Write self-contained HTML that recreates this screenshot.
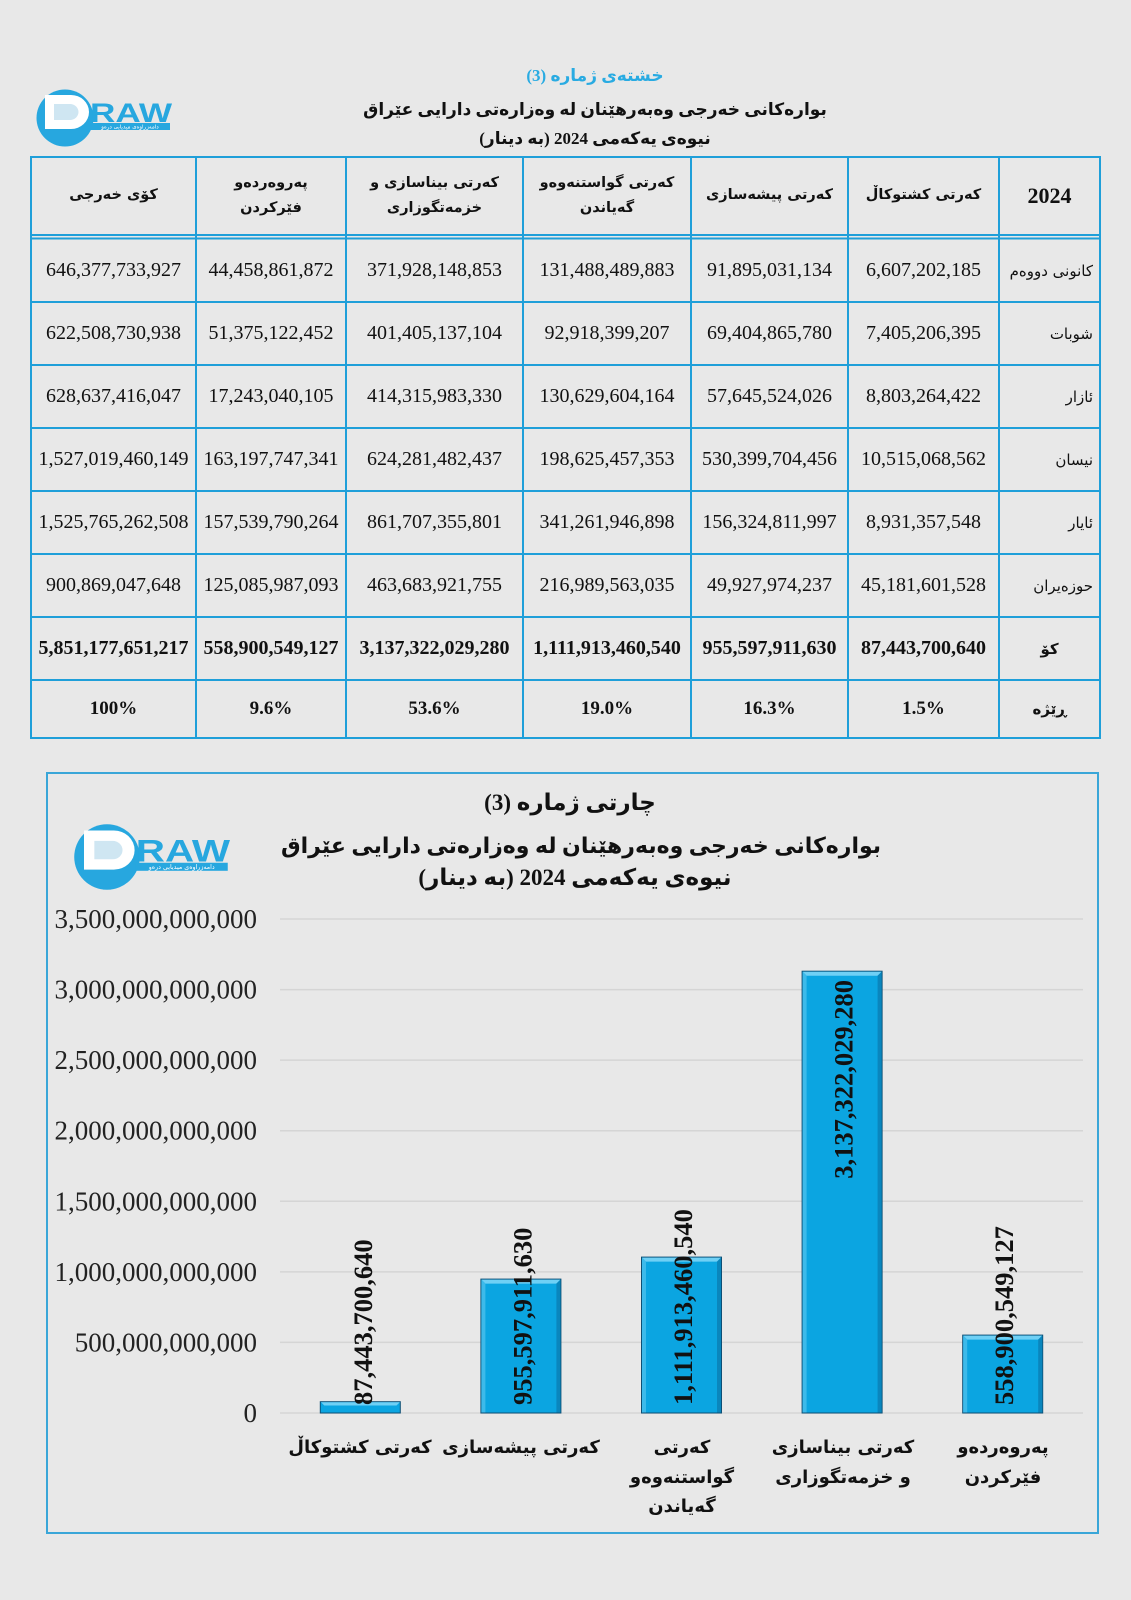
<!DOCTYPE html>
<html lang="ckb">
<head>
<meta charset="utf-8">
<style>
html,body{margin:0;padding:0;}
body{width:1131px;height:1600px;background:#e8e8e8;position:relative;overflow:hidden;
 font-family:"Liberation Serif","DejaVu Sans",serif;color:#111;}
.abs{position:absolute;}
.t{position:absolute;white-space:nowrap;direction:rtl;text-align:center;}
.row{position:absolute;left:0;width:1131px;}
.row div{position:absolute;top:0;height:100%;display:flex;align-items:center;justify-content:center;white-space:nowrap;}
.k1{left:31px;width:165px;}
.k2{left:196px;width:150px;}
.k3{left:346px;width:177px;}
.k4{left:523px;width:168px;}
.k5{left:691px;width:157px;}
.k6{left:848px;width:151px;}
.k7{left:999px;width:101px;}
.num{font-family:"Liberation Serif",serif;font-size:20px;}
.bn{font-family:"Liberation Serif",serif;font-size:20px;font-weight:bold;}
.pc{font-family:"Liberation Serif",serif;font-size:19px;font-weight:bold;}
.lab{font-family:"DejaVu Sans",sans-serif;font-size:15px;direction:rtl;}
.row div.lab{justify-content:flex-start;padding-right:7px;box-sizing:border-box;}
.row div.lb{font-family:"DejaVu Sans",sans-serif;font-size:15px;font-weight:bold;direction:rtl;}
.hd div{font-family:"DejaVu Sans",sans-serif;font-weight:bold;font-size:14.5px;direction:rtl;line-height:25px;text-align:center;}
.hd div.yr{font-family:"Liberation Serif",serif;font-size:22px;}
.cat{position:absolute;width:170px;text-align:center;direction:rtl;font-family:"DejaVu Sans",sans-serif;font-weight:bold;font-size:18px;line-height:29.5px;white-space:nowrap;}
</style>
</head>
<body>

<svg class="abs" style="left:0;top:0" width="1131" height="1600" viewBox="0 0 1131 1600">
  <defs>
    <g id="logo">
      <circle cx="0" cy="0" r="28.5" fill="#27a7df"/>
      <path d="M-20 -23 H6 A18 17 0 0 1 6 11 H-20 Z" fill="#ffffff"/>
      <path d="M-11 -14 H5 A8.5 8 0 0 1 5 2 H-11 Z" fill="#cfe6f2"/>
      <text x="25" y="4" font-family="Liberation Sans, sans-serif" font-weight="bold" font-size="27" fill="#27a7df" textLength="82" lengthAdjust="spacingAndGlyphs">RAW</text>
      <rect x="25" y="5" width="80" height="7" fill="#27a7df"/>
      <text x="65" y="10.5" font-family="DejaVu Sans, sans-serif" font-size="5.5" fill="#ffffff" text-anchor="middle" direction="rtl">دامەزراوەی میدیایی درەو</text>
    </g>
  </defs>
  <use href="#logo" transform="translate(65,118)"/>
  <use href="#logo" transform="translate(107,857) scale(1.15)"/>

  <g fill="#1f9fd9">
    <rect x="30" y="156" width="1071" height="2"/>
    <rect x="30" y="234" width="1071" height="2"/>
    <rect x="30" y="237.5" width="1071" height="2"/>
    <rect x="30" y="301" width="1071" height="2"/>
    <rect x="30" y="364" width="1071" height="2"/>
    <rect x="30" y="427" width="1071" height="2"/>
    <rect x="30" y="490" width="1071" height="2"/>
    <rect x="30" y="553" width="1071" height="2"/>
    <rect x="30" y="616" width="1071" height="2"/>
    <rect x="30" y="679" width="1071" height="2"/>
    <rect x="30" y="737" width="1071" height="2"/>
    <rect x="30" y="156" width="2" height="583"/>
    <rect x="195" y="156" width="2" height="583"/>
    <rect x="345" y="156" width="2" height="583"/>
    <rect x="522" y="156" width="2" height="583"/>
    <rect x="690" y="156" width="2" height="583"/>
    <rect x="847" y="156" width="2" height="583"/>
    <rect x="998" y="156" width="2" height="583"/>
    <rect x="1099" y="156" width="2" height="583"/>
  </g>

  <rect x="47" y="773" width="1051" height="760" fill="none" stroke="#3aa6d8" stroke-width="2"/>

  <g stroke="#d5d5d5" stroke-width="1.5">
    <line x1="280" y1="919" x2="1083" y2="919"/>
    <line x1="280" y1="989.6" x2="1083" y2="989.6"/>
    <line x1="280" y1="1060.1" x2="1083" y2="1060.1"/>
    <line x1="280" y1="1130.7" x2="1083" y2="1130.7"/>
    <line x1="280" y1="1201.3" x2="1083" y2="1201.3"/>
    <line x1="280" y1="1271.9" x2="1083" y2="1271.9"/>
    <line x1="280" y1="1342.4" x2="1083" y2="1342.4"/>
    <line x1="280" y1="1413" x2="1083" y2="1413"/>
  </g>

  <g font-family="Liberation Serif, serif" font-size="27" fill="#222" text-anchor="end">
    <text x="257" y="928">3,500,000,000,000</text>
    <text x="257" y="998.6">3,000,000,000,000</text>
    <text x="257" y="1069.1">2,500,000,000,000</text>
    <text x="257" y="1139.7">2,000,000,000,000</text>
    <text x="257" y="1210.3">1,500,000,000,000</text>
    <text x="257" y="1280.9">1,000,000,000,000</text>
    <text x="257" y="1351.4">500,000,000,000</text>
    <text x="257" y="1422">0</text>
  </g>

  <g>
    <rect x="320.3" y="1401.7" width="80" height="11.3" fill="#0ba5e1" stroke="#0d4f75" stroke-width="1"/>
    <polygon points="321,1402.2 399.8,1402.2 396.5,1405.5 324.3,1405.5" fill="#6fd0f5"/>
    <rect x="480.9" y="1279.1" width="80" height="133.9" fill="#0ba5e1" stroke="#0d4f75" stroke-width="1"/>
    <polygon points="481.4,1279.6 560.4,1279.6 556.4,1283.6 485.4,1283.6" fill="#6fd0f5"/>
    <polygon points="560.4,1279.6 560.4,1412.5 556.4,1412.5 556.4,1283.6" fill="#0a86bd"/>
    <polygon points="481.4,1279.6 485.4,1283.6 485.4,1412.5 481.4,1412.5" fill="#3dbaea"/>
    <rect x="641.5" y="1257.1" width="80" height="155.9" fill="#0ba5e1" stroke="#0d4f75" stroke-width="1"/>
    <polygon points="642,1257.6 721,1257.6 717,1261.6 646,1261.6" fill="#6fd0f5"/>
    <polygon points="721,1257.6 721,1412.5 717,1412.5 717,1261.6" fill="#0a86bd"/>
    <polygon points="642,1257.6 646,1261.6 646,1412.5 642,1412.5" fill="#3dbaea"/>
    <rect x="802.1" y="971.2" width="80" height="441.8" fill="#0ba5e1" stroke="#0d4f75" stroke-width="1"/>
    <polygon points="802.6,971.7 881.6,971.7 877.6,975.7 806.6,975.7" fill="#6fd0f5"/>
    <polygon points="881.6,971.7 881.6,1412.5 877.6,1412.5 877.6,975.7" fill="#0a86bd"/>
    <polygon points="802.6,971.7 806.6,975.7 806.6,1412.5 802.6,1412.5" fill="#3dbaea"/>
    <rect x="962.7" y="1335.1" width="80" height="77.9" fill="#0ba5e1" stroke="#0d4f75" stroke-width="1"/>
    <polygon points="963.2,1335.6 1042.2,1335.6 1038.2,1339.6 967.2,1339.6" fill="#6fd0f5"/>
    <polygon points="1042.2,1335.6 1042.2,1412.5 1038.2,1412.5 1038.2,1339.6" fill="#0a86bd"/>
    <polygon points="963.2,1335.6 967.2,1339.6 967.2,1412.5 963.2,1412.5" fill="#3dbaea"/>
  </g>

  <g font-family="Liberation Serif, serif" font-weight="bold" font-size="26.5" fill="#111">
    <text transform="translate(372,1405) rotate(-90)">87,443,700,640</text>
    <text transform="translate(531.5,1405) rotate(-90)">955,597,911,630</text>
    <text transform="translate(692,1405) rotate(-90)">1,111,913,460,540</text>
    <text transform="translate(852.5,980) rotate(-90)" text-anchor="end">3,137,322,029,280</text>
    <text transform="translate(1013,1405) rotate(-90)">558,900,549,127</text>
  </g>
</svg>

<div class="t" style="left:395px;width:400px;top:62px;line-height:28px;font-size:17px;font-weight:bold;color:#29abe2;">خشتەی ژمارە (3)</div>
<div class="t" style="left:295px;width:600px;top:96px;line-height:28px;font-size:17px;font-weight:bold;">بوارەکانی خەرجی وەبەرهێنان لە وەزارەتی دارایی عێراق</div>
<div class="t" style="left:395px;width:400px;top:125px;line-height:28px;font-size:17px;font-weight:bold;">نیوەی یەکەمی 2024 (بە دینار)</div>

<div class="row hd" style="top:157px;height:77px;">
  <div class="k1">کۆی خەرجی</div>
  <div class="k2">پەروەردەو<br>فێرکردن</div>
  <div class="k3">کەرتی بیناسازی و<br>خزمەتگوزاری</div>
  <div class="k4">کەرتی گواستنەوەو<br>گەیاندن</div>
  <div class="k5">کەرتی پیشەسازی</div>
  <div class="k6">کەرتی کشتوکاڵ</div>
  <div class="k7 yr">2024</div>
</div>

<div class="row" style="top:239px;height:63px;">
  <div class="k1 num">646,377,733,927</div><div class="k2 num">44,458,861,872</div><div class="k3 num">371,928,148,853</div><div class="k4 num">131,488,489,883</div><div class="k5 num">91,895,031,134</div><div class="k6 num">6,607,202,185</div><div class="k7 lab">کانونی دووەم</div>
</div>
<div class="row" style="top:302px;height:63px;">
  <div class="k1 num">622,508,730,938</div><div class="k2 num">51,375,122,452</div><div class="k3 num">401,405,137,104</div><div class="k4 num">92,918,399,207</div><div class="k5 num">69,404,865,780</div><div class="k6 num">7,405,206,395</div><div class="k7 lab">شوبات</div>
</div>
<div class="row" style="top:365px;height:63px;">
  <div class="k1 num">628,637,416,047</div><div class="k2 num">17,243,040,105</div><div class="k3 num">414,315,983,330</div><div class="k4 num">130,629,604,164</div><div class="k5 num">57,645,524,026</div><div class="k6 num">8,803,264,422</div><div class="k7 lab">ئازار</div>
</div>
<div class="row" style="top:428px;height:63px;">
  <div class="k1 num">1,527,019,460,149</div><div class="k2 num">163,197,747,341</div><div class="k3 num">624,281,482,437</div><div class="k4 num">198,625,457,353</div><div class="k5 num">530,399,704,456</div><div class="k6 num">10,515,068,562</div><div class="k7 lab">نیسان</div>
</div>
<div class="row" style="top:491px;height:63px;">
  <div class="k1 num">1,525,765,262,508</div><div class="k2 num">157,539,790,264</div><div class="k3 num">861,707,355,801</div><div class="k4 num">341,261,946,898</div><div class="k5 num">156,324,811,997</div><div class="k6 num">8,931,357,548</div><div class="k7 lab">ئایار</div>
</div>
<div class="row" style="top:554px;height:63px;">
  <div class="k1 num">900,869,047,648</div><div class="k2 num">125,085,987,093</div><div class="k3 num">463,683,921,755</div><div class="k4 num">216,989,563,035</div><div class="k5 num">49,927,974,237</div><div class="k6 num">45,181,601,528</div><div class="k7 lab">حوزەیران</div>
</div>
<div class="row" style="top:617px;height:63px;">
  <div class="k1 bn">5,851,177,651,217</div><div class="k2 bn">558,900,549,127</div><div class="k3 bn">3,137,322,029,280</div><div class="k4 bn">1,111,913,460,540</div><div class="k5 bn">955,597,911,630</div><div class="k6 bn">87,443,700,640</div><div class="k7 lb">کۆ</div>
</div>
<div class="row" style="top:680px;height:58px;">
  <div class="k1 pc">100%</div><div class="k2 pc">9.6%</div><div class="k3 pc">53.6%</div><div class="k4 pc">19.0%</div><div class="k5 pc">16.3%</div><div class="k6 pc">1.5%</div><div class="k7 lb">ڕێژە</div>
</div>

<div class="t" style="left:270px;width:600px;top:786px;line-height:34px;font-size:23px;font-weight:bold;">چارتی ژمارە (3)</div>
<div class="t" style="left:231px;width:700px;top:829px;line-height:34px;font-size:22px;font-weight:bold;">بوارەکانی خەرجی وەبەرهێنان لە وەزارەتی دارایی عێراق</div>
<div class="t" style="left:275px;width:600px;top:861px;line-height:34px;font-size:23px;font-weight:bold;">نیوەی یەکەمی 2024 (بە دینار)</div>

<div class="cat" style="left:275px;top:1433px;">کەرتی کشتوکاڵ</div>
<div class="cat" style="left:436px;top:1433px;">کەرتی پیشەسازی</div>
<div class="cat" style="left:597px;top:1433px;">کەرتی<br>گواستنەوەو<br>گەیاندن</div>
<div class="cat" style="left:758px;top:1433px;">کەرتی بیناسازی<br>و خزمەتگوزاری</div>
<div class="cat" style="left:918px;top:1433px;">پەروەردەو<br>فێرکردن</div>

</body>
</html>
